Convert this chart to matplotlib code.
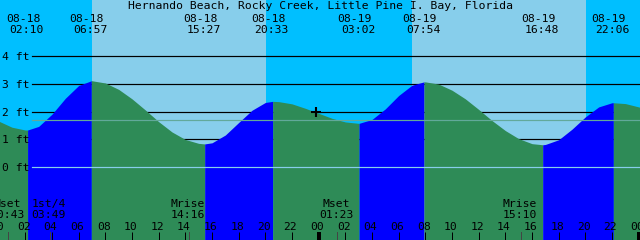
import matplotlib
matplotlib.use("Agg")
import matplotlib.pyplot as plt
from matplotlib import transforms

TITLE = "Hernando Beach, Rocky Creek, Little Pine I. Bay, Florida"

# hours since 08-18 00:00, tide height in ft
hours = list(range(0, 50))
heights = [1.66, 1.44, 1.34, 1.47, 1.91, 2.48, 2.94, 3.11, 3.03, 2.80,
           2.46, 2.06, 1.64, 1.27, 1.00, 0.86, 0.88, 1.16, 1.61, 2.05,
           2.33, 2.36, 2.28, 2.12, 1.94, 1.76, 1.63, 1.58, 1.72, 2.10,
           2.58, 2.95, 3.07, 2.99, 2.77, 2.46, 2.08, 1.68, 1.32, 1.03,
           0.85, 0.82, 0.99, 1.37, 1.81, 2.17, 2.32, 2.29, 2.17, 2.02]

# high / low tides
ext_hours = [2.17, 6.95, 15.45, 20.55, 27.03, 31.90, 40.80, 46.10]
ext_heights = [1.34, 3.11, 0.84, 2.37, 1.58, 3.07, 0.81, 2.32]
ext_dates = ["08-18", "08-18", "08-18", "08-18", "08-19", "08-19", "08-19", "08-19"]
ext_times = ["02:10", "06:57", "15:27", "20:33", "03:02", "07:54", "16:48", "22:06"]

# moon events
moon_hours = [0.72, 3.82, 14.27, 25.38, 39.17]
moon_names = ["Mset", "1st/4", "Mrise", "Mset", "Mrise"]
moon_times = ["00:43", "03:49", "14:16", "01:23", "15:10"]

sunrise = [7.0, 31.0]
sunset = [20.05, 44.03]

grid_ft = [1, 2, 3, 4]
ylabels = ["0 ft", "1 ft", "2 ft", "3 ft", "4 ft"]
mean_level = 1.69
now_hour, now_height = 23.8, 1.98

NIGHT = "#00BFFF"
DAY = "#87CEEB"
RISE = "#0000FF"
FALL = "#2E8B57"

W, H = 640, 240
PX = 72.0 / 100  # points per pixel
FS = 8.2
FONT = "DejaVu Sans Mono"

fig = plt.figure(figsize=(6.4, 2.4), dpi=100)
ax = fig.add_axes([0, 0, 1, 1])
t_lo, t_hi = 0.1, 48.1
ax.set_xlim(t_lo, t_hi)
ax.set_ylim(-2.612, 6.012)
ax.axis("off")

# sky
edges = [t_lo - 1] + sorted(sunrise + sunset) + [t_hi + 1]
for i in range(len(edges) - 1):
    ax.axvspan(edges[i], edges[i + 1], color=NIGHT if i % 2 == 0 else DAY, lw=0, zorder=0)

# grid lines behind the water
for g in grid_ft:
    ax.axhline(g, xmin=32 / W, xmax=1, color="black", lw=1.2 * PX, zorder=1)

# water: merge hourly points with the extremes
pts = sorted(list(zip(hours, heights)) + list(zip(ext_hours, ext_heights)))
bounds = [hours[0]] + ext_hours + [hours[-1]]
ybot = ax.get_ylim()[0]
for i in range(len(bounds) - 1):
    seg = [(t, h) for t, h in pts if bounds[i] <= t <= bounds[i + 1]]
    ts = [p[0] for p in seg]
    hs = [p[1] for p in seg]
    col = RISE if hs[-1] > hs[0] else FALL
    ax.fill_between(ts, hs, ybot, color=col, lw=0, zorder=2)

# datum and mean lines
ax.axhline(0, xmin=32 / W, xmax=1, color="#87CEEB", lw=1.2 * PX, zorder=3)
ax.axhline(mean_level, xmin=32 / W, xmax=1, color="#62A99A", lw=1.2 * PX, zorder=3)
ax.plot([now_hour], [now_height], marker="+", color="black", ms=7, mew=1.5, zorder=5)

# y labels
for g, lab in enumerate(ylabels):
    ax.annotate(lab, (2 / W, g), xycoords=("axes fraction", "data"),
                xytext=(0, -4 * PX), textcoords="offset points",
                ha="left", va="baseline", fontsize=FS, family=FONT, zorder=6)


def fy(px):
    return 1 - px / H


ax.text(0.5, fy(9.3), TITLE, transform=ax.transAxes, ha="center", va="baseline",
        fontsize=FS, family=FONT, zorder=6)

xt = transforms.blended_transform_factory(ax.transData, ax.transAxes)
for t, d, tm in zip(ext_hours, ext_dates, ext_times):
    ax.annotate(d, (t, fy(21.7)), xycoords=xt, xytext=(-4.5 * PX, 0),
                textcoords="offset points", ha="center", va="baseline",
                fontsize=FS, family=FONT, zorder=6)
    ax.annotate(tm, (t, fy(33.3)), xycoords=xt, xytext=(-1 * PX, 0),
                textcoords="offset points", ha="center", va="baseline",
                fontsize=FS, family=FONT, zorder=6)

for t, nm, tm in zip(moon_hours, moon_names, moon_times):
    ax.annotate(nm, (t, fy(206.7)), xycoords=xt, xytext=(-1 * PX, 0),
                textcoords="offset points", ha="center", va="baseline",
                fontsize=FS, family=FONT, zorder=6)
    ax.annotate(tm, (t, fy(218.3)), xycoords=xt, xytext=(-1 * PX, 0),
                textcoords="offset points", ha="center", va="baseline",
                fontsize=FS, family=FONT, zorder=6)
    ax.plot([t, t], [0, fy(232)], transform=xt, color="#444444", lw=1 * PX, zorder=5)

# hour ticks
for hr in range(0, 50, 2):
    thick = hr % 24 == 0
    ax.plot([hr, hr], [0, fy(232)], transform=xt, color="black",
            lw=(4 if thick else 1) * PX, solid_capstyle="butt", zorder=5)
    ax.annotate("%02d" % (hr % 24), (hr, fy(230)), xycoords=xt, xytext=(-1.5 * PX, 0),
                textcoords="offset points", ha="center", va="baseline",
                fontsize=FS, family=FONT, zorder=6)

fig.savefig("out.png", dpi=100)
